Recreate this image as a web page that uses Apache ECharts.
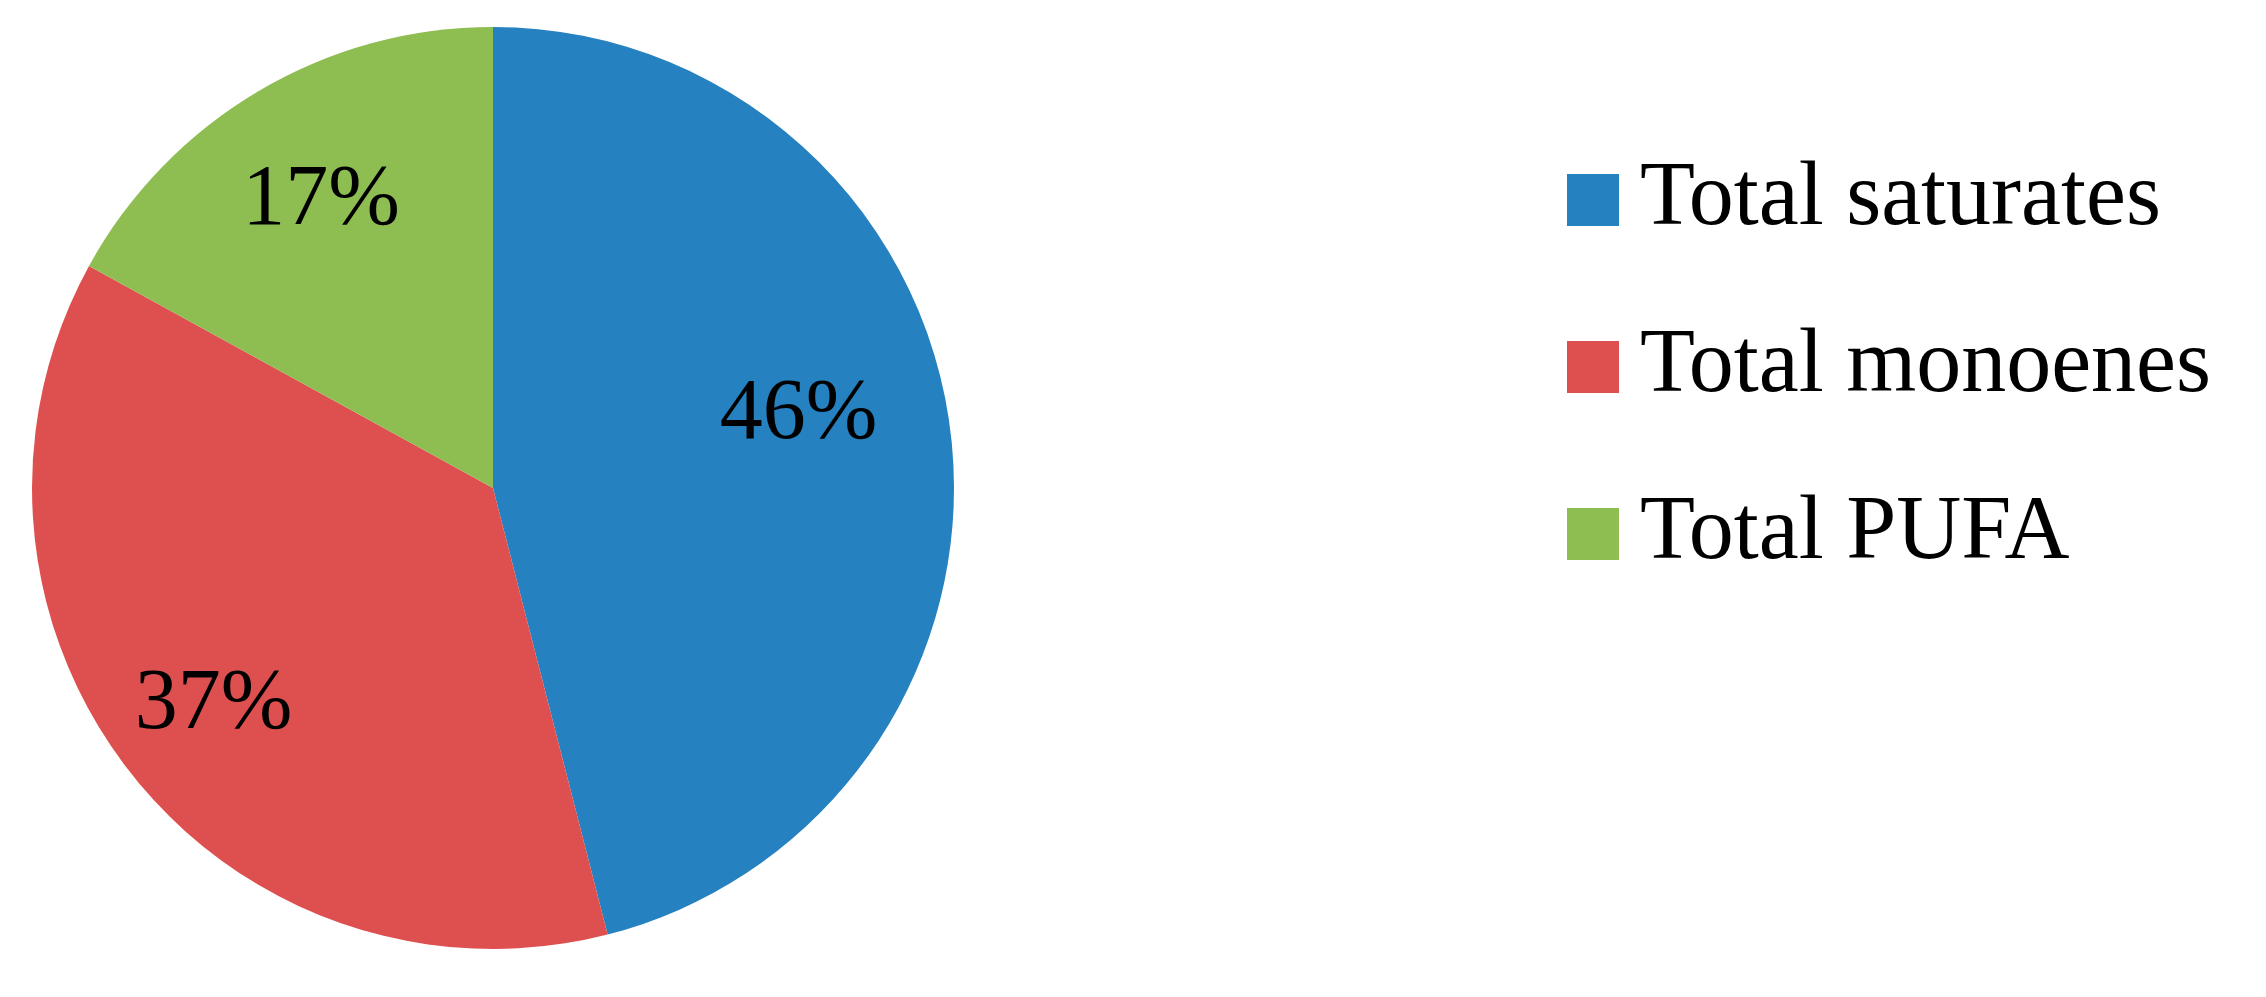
<!DOCTYPE html>
<html>
<head>
<meta charset="utf-8">
<title>Fatty acid composition</title>
<script src="https://cdn.jsdelivr.net/npm/echarts@6/dist/echarts.min.js"></script>
<style>
    html, body { margin: 0; padding: 0; background: #fff; }
    #fa_pie_con { width: 2266px; height: 997px; }
</style>
</head>
<body>
<div id="fa_pie_con"></div>
<script>
// data
const categories = ['Total saturates', 'Total monoenes', 'Total PUFA'];
const shares = [46, 37, 17];
const colors = ['#2581c0', '#de504f', '#8ebd51'];
// nudges that move each percentage from the slice middle to where the original put it
const labelNudge = [[74, -43], [-95, 74], [-53, -86]];

let faPie = echarts.init(document.getElementById('fa_pie_con'));

let option = {
    animation: false,
    color: colors,
    legend: {
        orient: 'vertical',
        left: 1562,
        top: 150,
        itemWidth: 52,
        itemHeight: 52,
        itemGap: 77,
        icon: 'rect',
        selectedMode: false,
        textStyle: {
            fontFamily: '"Liberation Serif", serif',
            fontSize: 90,
            lineHeight: 90,
            color: '#000',
            padding: [0, 0, 0, 16]
        },
        data: categories
    },
    series: [
        {
            type: 'pie',
            center: [493, 488],
            radius: 461,
            startAngle: 90,
            clockwise: true,
            silent: true,
            label: {
                show: true,
                position: 'inside',
                formatter: '{d}%',
                fontFamily: '"Liberation Serif", serif',
                fontSize: 86,
                color: '#000'
            },
            labelLayout: function (params) {
                let n = labelNudge[params.dataIndex];
                return { dx: n[0], dy: n[1] };
            },
            labelLine: { show: false },
            itemStyle: { borderWidth: 0 },
            data: categories.map(function (name, i) {
                return { name: name, value: shares[i] };
            })
        }
    ]
};

faPie.setOption(option);

window.addEventListener('resize', function () {
    faPie.resize();
});
</script>
</body>
</html>
